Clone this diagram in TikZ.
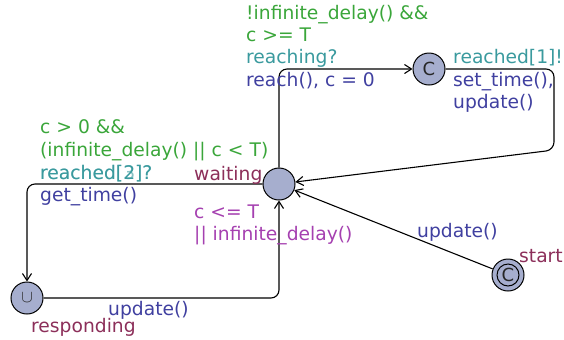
\documentclass[tikz,border=0pt]{standalone}
\usepackage{fontspec}
\setmainfont{DejaVu Sans}
\usetikzlibrary{arrows.meta}
\definecolor{guardc}{RGB}{58,166,58}
\definecolor{syncc}{RGB}{58,154,158}
\definecolor{updc}{RGB}{64,64,160}
\definecolor{namec}{RGB}{140,47,90}
\definecolor{invc}{RGB}{165,64,176}
\definecolor{locfill}{RGB}{166,174,206}
\tikzset{
  loc/.style={circle, draw=black, line width=1bp, fill=locfill, minimum size=32bp, inner sep=0pt},
  edge/.style={draw=black, line width=1.1bp, rounded corners=8bp, -{Straight Barb[length=7bp,width=9bp,line width=1.1bp]}},
  lbl/.style={anchor=base west, inner sep=0pt, font=\fontsize{18.7bp}{22bp}\selectfont},
  guard/.style={lbl, text=guardc},
  sync/.style={lbl, text=syncc},
  upd/.style={lbl, text=updc},
  lname/.style={lbl, text=namec},
  inv/.style={lbl, text=invc},
  sym/.style={font=\fontsize{18bp}{18bp}\selectfont, text=black!85}
}
\begin{document}
\begin{tikzpicture}[x=1bp, y=-1bp]
\useasboundingbox (0,0) rectangle (564,339);
% locations
\node[loc] (w) at (279,184) {};
\node[loc, sym] (c) at (429,69) {C};
\node[loc, sym] (r) at (27,298) {$\cup$};
\node[loc] (s) at (508,275) {};
\draw[line width=1bp] (s) circle (11bp);
\node[sym] (sc) at (s) {C};
% bend coordinates
\coordinate (c1) at (554,69);
\coordinate (c2) at (554,150);
% edges
\draw[edge] (w.north) |- (c.west);
\draw[edge] (c.east) -- (c1) -- (c2) -- (w);
\draw[edge] (w.west) -| (r.north);
\draw[edge] (r.east) -| (w.south);
\draw[edge] (s) -- (w);
% labels: waiting -> committed
\node[guard] (g1) at (246,19) {!infinite\_delay() \&\&};
\node[guard] (g2) at (246,41) {c >= T};
\node[sync] (s1) at (246,63) {reaching?};
\node[upd] (u1) at (246,86) {reach(), c = 0};
% committed -> waiting
\node[sync] (s2) at (453,63) {reached[1]!};
\node[upd] (u2) at (453,86) {set\_time(),};
\node[upd] (u3) at (453,108) {update()};
% waiting -> responding
\node[guard] (g3) at (40,133) {c > 0 \&\&};
\node[guard] (g4) at (40,156) {(infinite\_delay() || c < T)};
\node[sync] (s3) at (40,179) {reached[2]?};
\node[sync, opacity=0.6] (s3b) at (40,179) {reached[3]?};
\node[upd] (u4) at (40,201) {get\_time()};
% waiting name and invariant
\node[lname] (nw) at (194,180) {waiting};
\node[inv] (i1) at (194,218) {c <= T};
\node[inv] (i2) at (194,240) {|| infinite\_delay()};
% responding -> waiting
\node[upd] (u5) at (108,315) {update()};
\node[lname] (nr) at (31,332) {responding};
% start -> waiting
\node[upd] (u6) at (417,237) {update()};
\node[lname] (ns) at (519,262) {start};
\end{tikzpicture}
\end{document}
